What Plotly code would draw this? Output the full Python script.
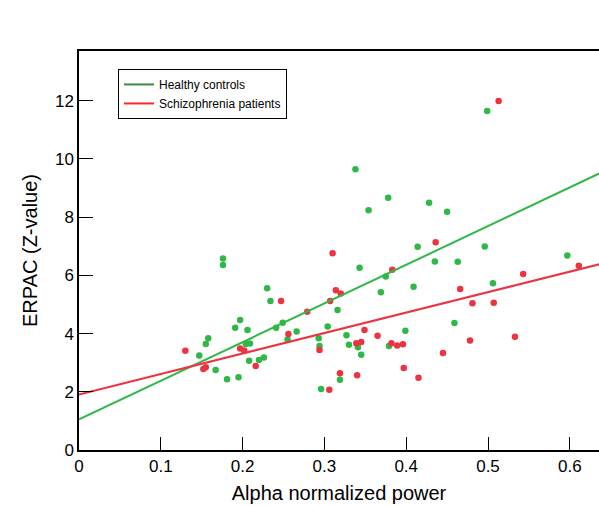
import plotly.graph_objects as go

# Healthy controls (green)
hc_x = [0.176, 0.176, 0.197, 0.191, 0.206, 0.158, 0.155, 0.147, 0.204, 0.209,
        0.167, 0.181, 0.195, 0.208, 0.220, 0.226, 0.230, 0.234, 0.249, 0.241,
        0.266, 0.255, 0.293, 0.294, 0.296, 0.316, 0.304, 0.327, 0.330, 0.341,
        0.345, 0.319, 0.338, 0.343, 0.378, 0.354, 0.428, 0.450, 0.414, 0.435,
        0.463, 0.375, 0.409, 0.369, 0.399, 0.379, 0.459, 0.499, 0.496, 0.597,
        0.506]
hc_y = [6.58, 6.36, 4.47, 4.20, 4.12, 3.84, 3.64, 3.25, 3.64, 3.66,
        2.75, 2.43, 2.50, 3.07, 3.09, 3.18, 5.56, 5.12, 4.37, 4.20,
        4.07, 3.80, 3.84, 3.57, 2.10, 4.81, 4.24, 3.94, 3.62, 3.53,
        3.27, 2.41, 9.65, 6.26, 8.67, 8.24, 8.50, 8.19, 6.98, 6.48,
        6.47, 5.96, 5.61, 5.42, 4.10, 3.57, 4.36, 11.65, 6.99, 6.68,
        5.73]

# Schizophrenia patients (red)
sz_x = [0.130, 0.197, 0.202, 0.152, 0.155, 0.216, 0.247, 0.279, 0.256, 0.294,
        0.310, 0.314, 0.320, 0.307, 0.339, 0.345, 0.319, 0.340, 0.306, 0.383,
        0.349, 0.365, 0.382, 0.389, 0.396, 0.397, 0.415, 0.445, 0.436, 0.466,
        0.513, 0.611, 0.543, 0.481, 0.507, 0.478, 0.533]
sz_y = [3.41, 3.49, 3.42, 2.78, 2.84, 2.89, 5.12, 4.75, 3.99, 3.44,
        6.76, 5.49, 5.38, 5.12, 3.67, 3.71, 2.64, 2.57, 2.07, 6.19,
        4.12, 3.93, 3.67, 3.59, 3.63, 2.82, 2.48, 3.33, 7.14, 5.53,
        11.99, 6.33, 6.05, 5.04, 5.06, 3.76, 3.89]

# Regression lines
fit_x = [0.0, 0.636]
hc_fit = [1.05, 9.50]
sz_fit = [1.91, 6.38]

labels = ["Healthy controls", "Schizophrenia patients"]

GREEN_PT = "#2fb845"
RED_PT = "#ee3340"
GREEN_LEG = "#3a8a3a"
RED_LEG = "#ff2626"

fig = go.Figure()
fig.add_trace(go.Scatter(x=hc_x, y=hc_y, mode="markers",
                         marker=dict(color=GREEN_PT, size=6.5), showlegend=False,
                         cliponaxis=False))
fig.add_trace(go.Scatter(x=sz_x, y=sz_y, mode="markers",
                         marker=dict(color=RED_PT, size=6.5), showlegend=False,
                         cliponaxis=False))
fig.add_trace(go.Scatter(x=fit_x, y=hc_fit, mode="lines",
                         line=dict(color=GREEN_PT, width=2), showlegend=False))
fig.add_trace(go.Scatter(x=fit_x, y=sz_fit, mode="lines",
                         line=dict(color=RED_PT, width=2), showlegend=False))
# legend entries
fig.add_trace(go.Scatter(x=[None], y=[None], mode="lines", name=labels[0],
                         line=dict(color=GREEN_LEG, width=2)))
fig.add_trace(go.Scatter(x=[None], y=[None], mode="lines", name=labels[1],
                         line=dict(color=RED_LEG, width=2)))

fig.update_layout(
    width=599, height=506,
    margin=dict(l=79, r=0, t=51, b=56),
    paper_bgcolor="white", plot_bgcolor="white",
    font=dict(family="Liberation Sans, Arial, sans-serif", size=17, color="black"),
    legend=dict(x=0.075, y=0.955, xanchor="left", yanchor="top",
                bgcolor="white", bordercolor="black", borderwidth=1,
                font=dict(size=12), tracegroupgap=0, entrywidth=168),
)
fig.update_xaxes(range=[0, 0.6357], tickvals=[0, 0.1, 0.2, 0.3, 0.4, 0.5, 0.6],
                 ticktext=["0", "0.1", "0.2", "0.3", "0.4", "0.5", "0.6"],
                 ticks="inside", ticklen=13, tickwidth=1.3, tickcolor="black",
                 showline=True, linecolor="black", linewidth=1.5, mirror=True,
                 showgrid=False, zeroline=False,
                 title=dict(text="Alpha normalized power", standoff=11))
fig.update_yaxes(range=[0, 13.71], tickvals=[0, 2, 4, 6, 8, 10, 12],
                 ticks="inside", ticklen=14, tickwidth=1.3, tickcolor="black",
                 showline=True, linecolor="black", linewidth=1.5,
                 showgrid=False, zeroline=False,
                 title=dict(text="ERPAC (Z-value)", standoff=12))

fig.write_html("out.html")
